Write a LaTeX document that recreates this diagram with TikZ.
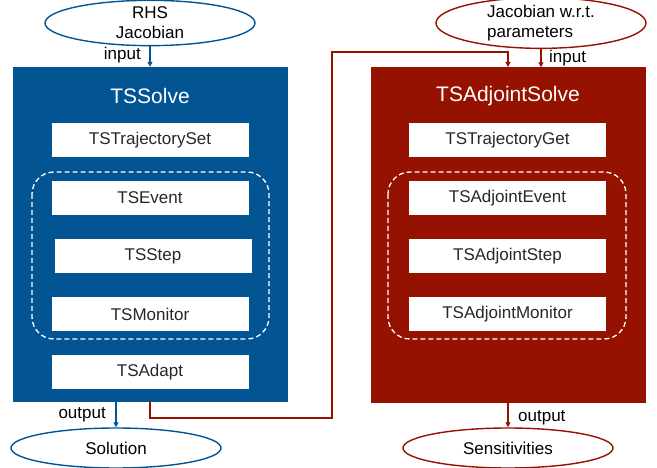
\documentclass[tikz,border=0pt]{standalone}
\usepackage{fontspec}
\setmainfont{Liberation Sans}
\usetikzlibrary{shapes.geometric,arrows.meta}
\definecolor{tsblue}{RGB}{2,84,147}
\definecolor{tsred}{RGB}{150,18,0}
\definecolor{txtgray}{RGB}{40,40,40}
\tikzset{
  panel/.style={rectangle,inner sep=0pt,minimum width=275pt,minimum height=335pt},
  title/.style={text=white,font=\fontsize{21}{24}\selectfont},
  item/.style={rectangle,fill=white,inner sep=0pt,minimum width=197pt,minimum height=34pt,text=txtgray,font=\fontsize{17}{20}\selectfont},
  group/.style={draw=white,dashed,line width=1.3pt,rounded corners=22pt,dash pattern=on 5pt off 3pt},
  oval/.style={ellipse,draw,line width=1.4pt,inner sep=0pt,minimum width=210pt,minimum height=40pt,font=\fontsize{17}{20}\selectfont},
  lbl/.style={inner sep=0pt,font=\fontsize{17}{20}\selectfont},
  arr/.style={line width=1.3pt,-{Triangle[length=5pt,width=5pt]}},
}
\begin{document}
\begin{tikzpicture}[x=1pt,y=-1pt]
\useasboundingbox (0,0) rectangle (657,468);
% panels
\node[panel,fill=tsblue] (blue) at (150,234.5) {};
\node[panel,fill=tsred] (red) at (508.5,235) {};
\node[title] (t1) at (150,96) {TSSolve};
\node[title] (t2) at (508,96) {TSAdjointSolve};
% left items
\node[item] (set) at (150,140) {TSTrajectorySet};
\draw[group] (32,172) rectangle (269,339);
\node[item] (ev) at (150,198) {TSEvent};
\node[item] (st) at (153,256) {TSStep};
\node[item] (mo) at (150,314) {TSMonitor};
\node[item] (ad) at (150,372) {TSAdapt};
% right items
\node[item] (get) at (507.5,140) {TSTrajectoryGet};
\draw[group] (388,172) rectangle (626,339);
\node[item] (aev) at (507.5,198) {TSAdjointEvent};
\node[item] (ast) at (507.5,256) {TSAdjointStep};
\node[item] (amo) at (507.5,314) {TSAdjointMonitor};
% ovals
\node[oval,draw=tsblue,align=center] (rhs) at (150,23) {RHS\\Jacobian};
\node[oval,draw=tsred,align=left] (par) at (541,23) {Jacobian w.r.t.\\parameters};
\node[oval,draw=tsblue] (sol) at (116,448) {Solution};
\node[oval,draw=tsred] (sen) at (508,448) {Sensitivities};
% arrows
\draw[arr,draw=tsblue] (rhs.south) -- (rhs.south |- blue.north);
\node[lbl,anchor=east] (in1) at (141,55) {input};
\draw[arr,draw=tsred] (par.south) -- (par.south |- red.north);
\node[lbl,anchor=west] (in2) at (549,58) {input};
\draw[arr,draw=tsblue] (sol.north |- blue.south) -- (sol.north);
\node[lbl,anchor=east] (out1) at (106,415) {output};
\draw[arr,draw=tsred] (sen.north |- red.south) -- (sen.north);
\node[lbl,anchor=west] (out2) at (518,418) {output};
% connector
\coordinate (c0) at (150,402);
\coordinate (c1) at (508,67);
\draw[arr,draw=tsred] (c0) -- (150,418) -- (332,418) -- (332,52) -- (508,52) -- (c1);
\end{tikzpicture}
\end{document}
